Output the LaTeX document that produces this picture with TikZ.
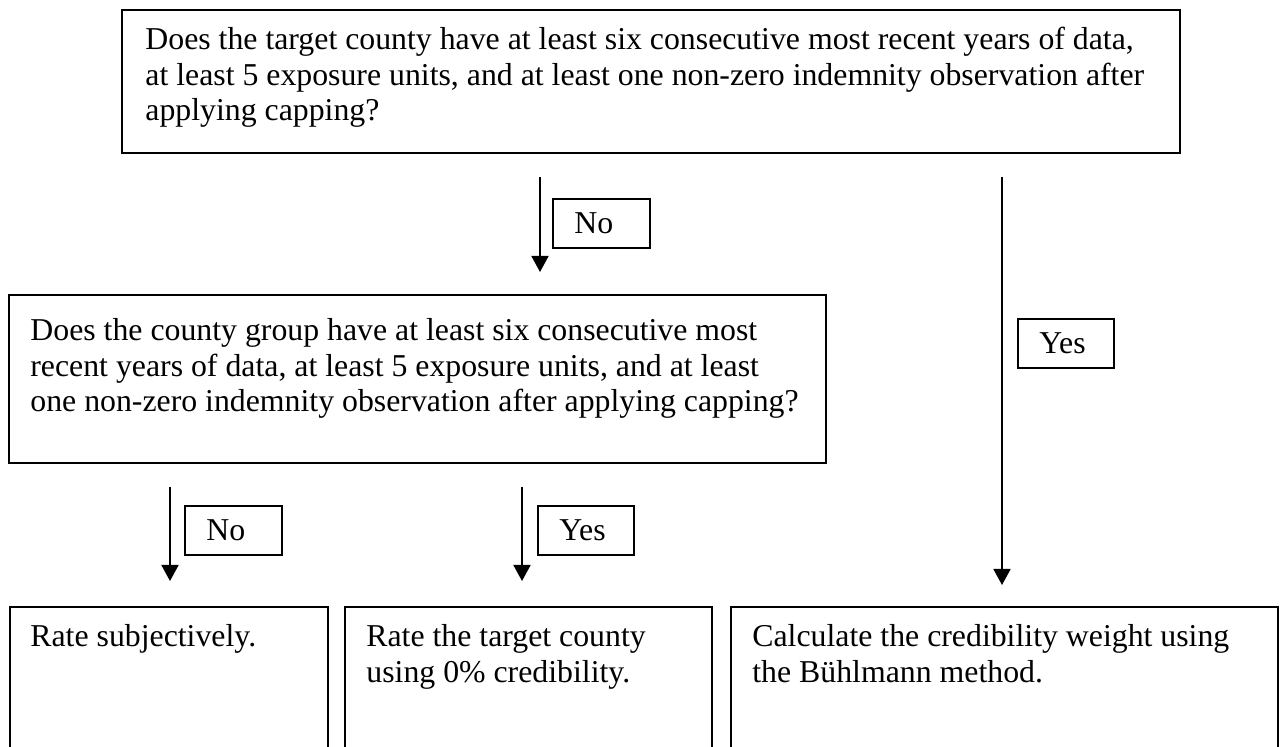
\documentclass[tikz,border=0pt]{standalone}
\usepackage{fontspec}
\setmainfont{Liberation Serif}
\usetikzlibrary{arrows.meta}
\begin{document}
\begin{tikzpicture}[x=0.5pt,y=-0.5pt,
  box/.style={draw, line width=0.75pt, anchor=north west, inner sep=0pt, outer sep=0pt},
  lbl/.style={draw, line width=0.65pt, anchor=north west, inner sep=0pt, outer sep=0pt,
    minimum height=24.5pt},
  txt/.style={anchor=north west, inner sep=0pt, align=left,
    font=\fontsize{15.9}{17.8}\selectfont},
  ltxt/.style={anchor=base west, inner sep=0pt, font=\fontsize{15.9}{17.8}\selectfont},
  arr/.style={line width=0.9pt, -{Triangle[length=8pt,width=8.5pt]}}]
\useasboundingbox (0,0) rectangle (1280,747);
\clip (0,0) rectangle (1280,747);
% boxes
\node[box, minimum width=529pt, minimum height=71.5pt] (q1) at (122,10) {};
\node[box, minimum width=408.5pt, minimum height=84pt] (q2) at (9,295) {};
\node[box, minimum width=159pt, minimum height=90pt] (r1) at (10,607) {};
\node[box, minimum width=183.5pt, minimum height=90pt] (r2) at (345,607) {};
\node[box, minimum width=273.5pt, minimum height=90pt] (r3) at (731,607) {};
% box texts
\node[txt] (q1t) at (145,27) {Does the target county have at least six consecutive most recent years of data,\\at least 5 exposure units, and at least one non-zero indemnity observation after\\applying capping?};
\node[txt] (q2t) at (30,318) {Does the county group have at least six consecutive most\\recent years of data, at least 5 exposure units, and at least\\one non-zero indemnity observation after applying capping?};
\node[txt] (r1t) at (30,624) {Rate subjectively.};
\node[txt] (r2t) at (366,624) {Rate the target county\\using 0\% credibility.};
\node[txt] (r3t) at (752,624) {Calculate the credibility weight using\\the Bühlmann method.};
% label boxes
\node[lbl, minimum width=48.5pt] (l1) at (553,199) {};
\node[lbl, minimum width=48pt] (l2) at (1018,319) {};
\node[lbl, minimum width=48.5pt] (l3) at (185,506) {};
\node[lbl, minimum width=48pt] (l4) at (538,506) {};
\node[ltxt] (l1t) at ([shift={(21,35)}]l1.north west) {No};
\node[ltxt] (l2t) at ([shift={(21,35)}]l2.north west) {Yes};
\node[ltxt] (l3t) at ([shift={(21,35)}]l3.north west) {No};
\node[ltxt] (l4t) at ([shift={(21,35)}]l4.north west) {Yes};
% arrow ends
\coordinate (a1s) at (540,177); \coordinate (a1e) at (540,272);
\coordinate (a2s) at (1002,177); \coordinate (a2e) at (1002,585);
\coordinate (a3s) at (170,487); \coordinate (a3e) at (170,581);
\coordinate (a4s) at (522,487); \coordinate (a4e) at (522,581);
\draw[arr] (a1s) -- (a1e);
\draw[arr] (a2s) -- (a2e);
\draw[arr] (a3s) -- (a3e);
\draw[arr] (a4s) -- (a4e);
\end{tikzpicture}
\end{document}
